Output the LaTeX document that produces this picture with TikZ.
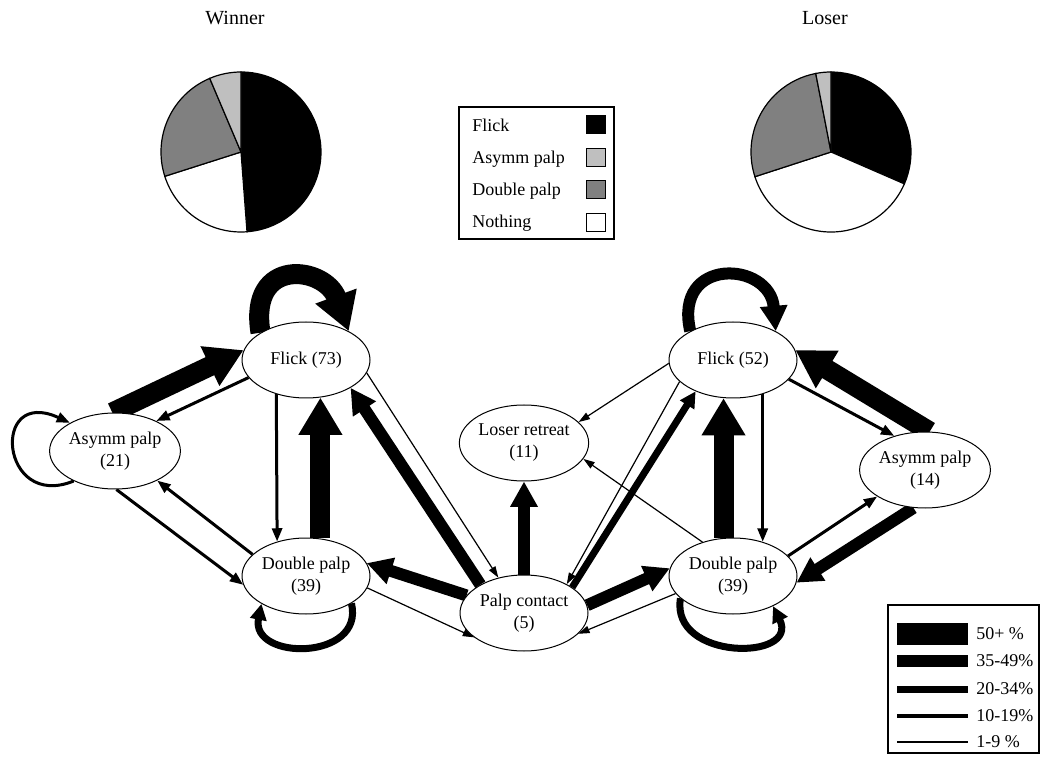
\documentclass[tikz,border=0pt]{standalone}
\usepackage{fontspec}
\setmainfont{Liberation Serif}
\usetikzlibrary{shapes.geometric,arrows.meta,backgrounds}
\definecolor{lgray}{gray}{0.75}
\definecolor{mgray}{gray}{0.5}
\newcommand{\nfont}{\fontsize{13.5}{16.5}\selectfont}
\newcommand{\tfont}{\fontsize{15}{18}\selectfont}
\tikzset{
  st/.style={ellipse, draw, line width=0.75pt, fill=white, minimum width=96pt,
             minimum height=57pt, inner sep=0pt, align=center, font=\nfont},
  a50/.style={line width=15pt, -{Triangle[width=31pt,length=28pt]}},
  a35/.style={line width=9pt, -{Triangle[width=19.5pt,length=19pt]}},
  a20/.style={line width=5.25pt, -{Triangle[width=12pt,length=12pt]}},
  a10/.style={line width=2.25pt, -{Triangle[width=7.5pt,length=10pt]}},
  a01/.style={line width=0.9pt, -{Triangle[width=5.5pt,length=8.5pt]}},
  lbl/.style={font=\nfont, inner sep=0pt, anchor=west},
  sw/.style={draw, line width=0.75pt, minimum width=14pt, minimum height=13.5pt, inner sep=0pt},
  pie/.style={draw, line width=0.9pt}
}
\begin{document}
\begin{tikzpicture}[x=0.75pt,y=0.75pt]
\useasboundingbox (0,0) rectangle (1042,761);
\begin{pgfonlayer}{background}
\fill[white] (0,0) rectangle (1042,761);
\end{pgfonlayer}

% titles
\node[font=\tfont] (tw) at (235,743) {Winner};
\node[font=\tfont] (tl) at (825,743) {Loser};

% winner pie
\filldraw[pie, fill=black] (241,609) -- ++(-85.7:80) arc[start angle=-85.7, end angle=90, radius=80] -- cycle;
\filldraw[pie, fill=white] (241,609) -- ++(197.7:80) arc[start angle=197.7, end angle=274.3, radius=80] -- cycle;
\filldraw[pie, fill=mgray] (241,609) -- ++(113:80) arc[start angle=113, end angle=197.7, radius=80] -- cycle;
\filldraw[pie, fill=lgray] (241,609) -- ++(90:80) arc[start angle=90, end angle=113, radius=80] -- cycle;

% loser pie
\filldraw[pie, fill=black] (831,609) -- ++(-23.5:80) arc[start angle=-23.5, end angle=90, radius=80] -- cycle;
\filldraw[pie, fill=white] (831,609) -- ++(198:80) arc[start angle=198, end angle=336.5, radius=80] -- cycle;
\filldraw[pie, fill=mgray] (831,609) -- ++(101:80) arc[start angle=101, end angle=198, radius=80] -- cycle;
\filldraw[pie, fill=lgray] (831,609) -- ++(90:80) arc[start angle=90, end angle=101, radius=80] -- cycle;

% pie legend
\draw[line width=0.9pt] (459,522) rectangle (614,654);
\node[lbl] (k1) at (472,636) {Flick};
\node[lbl] (k2) at (472,602) {Asymm palp};
\node[lbl] (k3) at (472,570) {Double palp};
\node[lbl] (k4) at (472,538) {Nothing};
\node[sw, fill=black] (s1) at (596,636) {};
\node[sw, fill=lgray] (s2) at (596,603) {};
\node[sw, fill=mgray] (s3) at (596,571) {};
\node[sw, fill=white] (s4) at (596,538) {};

% states
\node[st] (wf) at (306,401) {Flick (73)};
\node[st] (wa) at (115,310) {Asymm palp\\(21)};
\node[st] (wd) at (306,185) {Double palp\\(39)};
\node[st] (pc) at (524,148) {Palp contact\\(5)};
\node[st] (lr) at (524,318) {Loser retreat\\(11)};
\node[st] (lf) at (733,401) {Flick (52)};
\node[st] (la) at (925,291) {Asymm palp\\(14)};
\node[st] (ld) at (733,185) {Double palp\\(39)};

\begin{pgfonlayer}{background}
% winner side
\draw[a50] (wf.149) .. controls (248,505) and (325,495) .. (wf.34);
\draw[a50] (wa.94) -- (wf.171);
\draw[a10] (wf.197) -- (wa.36);
\draw[a10] (wa.216) .. controls (0,250) and (-10,375) .. (wa.148);
\draw[a10] (wa.-88) -- (wd.188);
\draw[a10] (wd.158) -- (wa.-35);
\draw[a10] (wf.229.5) -- (wd.130.5);
\draw[a50] (wd.69.3) -- (wf.-69.3);
\draw[a20] (wd.-31.5) .. controls (365,100) and (250,100) .. (wd.212);
\draw[a35] (pc.163.5) -- (wd.12);
\draw[a01] (wd.-11) -- (pc.206);
\draw[a35] (pc.147.5) -- (wf.-32.5);
\draw[a01] (wf.-12) -- (pc.126.6);
% centre
\draw[a35] (pc.north) -- (lr.south);
% loser side
\draw[a35] (lf.146) .. controls (673,505) and (770,500) .. (lf.34);
\draw[a01] (lf.183) -- (lr.21);
\draw[a01] (lf.202) -- (pc.34);
\draw[a20] (pc.28.5) -- (lf.220);
\draw[a01] (ld.132.5) -- (lr.-15.6);
\draw[a50] (ld.104.9) -- (lf.-104.9);
\draw[a10] (lf.-49.5) -- (ld.49.5);
\draw[a10] (lf.-19.7) -- (la.132);
\draw[a50] (la.83) -- (lf.9);
\draw[a10] (ld.20.2) -- (la.209.6);
\draw[a35] (la.253) -- (ld.-6.3);
\draw[a35] (pc.7) -- (ld.173);
\draw[a01] (ld.197.8) -- (pc.-21.8);
\draw[a20] (ld.203.6) .. controls (670,100) and (800,100) .. (ld.-37.7);
\end{pgfonlayer}

% width legend
\draw[line width=0.9pt] (888,8) rectangle (1039,156);
\draw[line width=16.5pt] (897,127) -- (968,127);
\draw[line width=9pt] (897,100) -- (968,100);
\draw[line width=5.25pt] (897,72) -- (968,72);
\draw[line width=2.6pt] (897,45) -- (968,45);
\draw[line width=0.9pt] (897,19) -- (968,19);
\node[lbl] (p1) at (976,127) {50+ \%};
\node[lbl] (p2) at (976,100) {35-49\%};
\node[lbl] (p3) at (976,72) {20-34\%};
\node[lbl] (p4) at (976,45) {10-19\%};
\node[lbl] (p5) at (976,19) {1-9 \%};
\end{tikzpicture}
\end{document}
